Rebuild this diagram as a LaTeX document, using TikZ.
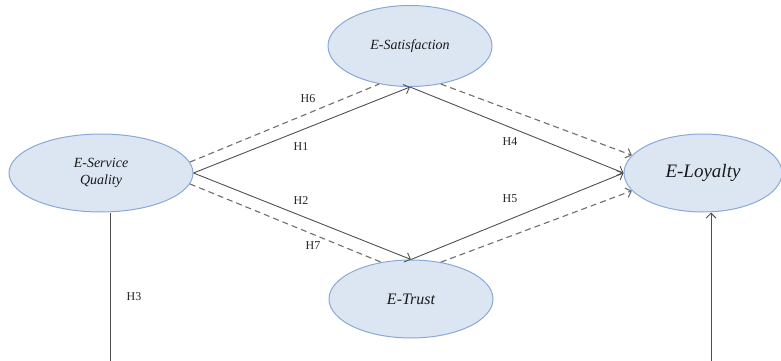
\documentclass[tikz,border=0pt]{standalone}
\usepackage{fontspec}
\setmainfont{Liberation Serif}
\usetikzlibrary{shapes.geometric,arrows.meta}
\definecolor{efill}{HTML}{DCE6F2}
\definecolor{eline}{HTML}{8AA8D6}
\definecolor{lgray}{HTML}{505050}
\definecolor{dgray}{HTML}{6E6E6E}
\tikzset{
  construct/.style={ellipse,draw=eline,fill=efill,line width=1pt,inner sep=0pt,font=\itshape,text=black!90},
  solidarr/.style={draw=lgray,line width=0.9pt,-{Straight Barb[length=5pt,width=10pt]}},
  dasharr/.style={draw=dgray,line width=1.1pt,dash pattern=on 6pt off 4pt},
  hlabel/.style={font=\fontsize{12}{13}\selectfont,text=black!85,inner sep=0pt}
}
\begin{document}
\begin{tikzpicture}[x=1pt,y=-1pt]
\useasboundingbox (0,0) rectangle (781,361);
\node[construct,minimum width=184pt,minimum height=78pt,align=center,font=\itshape\fontsize{14}{17}\selectfont] (sq) at (101,173) {E-Service\\Quality};
\node[construct,minimum width=164pt,minimum height=81pt,font=\itshape\fontsize{14}{17}\selectfont] (sat) at (410,46) {E-Satisfaction};
\node[construct,minimum width=164pt,minimum height=78pt,font=\itshape\fontsize{16}{19}\selectfont] (tr) at (411,299) {E-Trust};
\node[construct,minimum width=158pt,minimum height=78pt,font=\itshape\fontsize{19}{22}\selectfont] (lo) at (703,173) {E-Loyalty};
% solid paths
\draw[solidarr] (sq.east) -- (sat.south);
\draw[solidarr] (sq.east) -- (tr.north);
\draw[solidarr] (sat.south) -- (lo.west);
\draw[solidarr] (tr.north) -- (lo.west);
% dashed paths
\draw[dasharr] (sq.7) -- (sat.-129);
\draw[dasharr] (sq.-7) -- (tr.129);
\draw[dasharr,-{Straight Barb[length=5pt,width=10pt]}] (sat.-51) -- (lo.166);
\draw[dasharr,-{Straight Barb[length=5pt,width=10pt]}] (tr.51) -- (lo.194);
% vertical lines
\coordinate (b1) at (110,361);
\coordinate (b2) at (711,361);
\draw[lgray,line width=0.9pt] (b1) -- (b1 |- sq.south);
\draw[solidarr] (b2) -- (b2 |- lo.south);
% labels
\node[hlabel] (h6) at (308,99) {H6};
\node[hlabel] (h1) at (301,147) {H1};
\node[hlabel] (h2) at (301,201) {H2};
\node[hlabel] (h7) at (313,246) {H7};
\node[hlabel] (h4) at (510,142) {H4};
\node[hlabel] (h5) at (510,199) {H5};
\node[hlabel] (h3) at (134,297) {H3};
\end{tikzpicture}
\end{document}
